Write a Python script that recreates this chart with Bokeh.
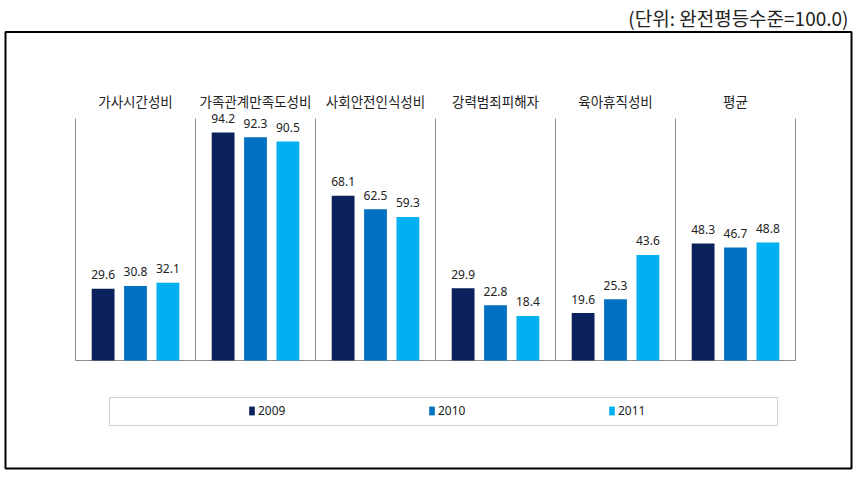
import numpy as np
from bokeh.plotting import figure
from bokeh.models import Range1d, ColumnDataSource, Legend, LegendItem
from bokeh.core.properties import value
from bokeh.embed import file_html
from bokeh.resources import INLINE

# ---- data ----
categories = ["가사시간성비", "가족관계만족도성비", "사회안전인식성비", "강력범죄피해자", "육아휴직성비", "평균"]
years = ["2009", "2010", "2011"]
v2009 = [29.6, 94.2, 68.1, 29.9, 19.6, 48.3]
v2010 = [30.8, 92.3, 62.5, 22.8, 25.3, 46.7]
v2011 = [32.1, 90.5, 59.3, 18.4, 43.6, 48.8]
unit_note = "(단위: 완전평등수준=100.0)"

colors = ["#0A215C", "#0070C0", "#00B0F0"]
offsets = [-0.27, 0.0, 0.27]

# ---- layout (canvas pixels) ----
W, H = 856, 472
PL, PR, PT, PB = 75, 795, 118, 360
n = len(categories)
xs = (PR - PL) / n
ys = (PB - PT) / 100.0
X0 = -PL / xs
X1 = n + (W - PR) / xs
Y1 = 100 + PT / ys
Y0 = -(H - PB) / ys


def fx(px):
    return X0 + px / xs


def fy(py):
    return Y1 - py / ys


p = figure(width=W, height=H, x_range=Range1d(X0, X1), y_range=Range1d(Y0, Y1),
           x_axis_type=None, y_axis_type=None, toolbar_location=None,
           output_backend="svg", min_border=0)
p.outline_line_color = None
p.xgrid.visible = False
p.ygrid.visible = False
p.background_fill_color = "white"
p.border_fill_color = "white"

# outer frame box
p.quad(left=[fx(5)], right=[fx(851)], top=[fy(31.5)], bottom=[fy(468)],
       fill_color=None, line_color="black", line_width=2)

# separators and baseline
bounds = np.arange(n + 1)
p.segment(x0=bounds, y0=[0] * (n + 1), x1=bounds, y1=[100] * (n + 1),
          line_color="#8C8C8C", line_width=1)
p.segment(x0=[0], y0=[0], x1=[n], y1=[0], line_color="#8C8C8C", line_width=1)

idx = np.arange(n) + 0.5
renderers = []
for k, (vals, yr) in enumerate(zip([v2009, v2010, v2011], years)):
    src = ColumnDataSource(dict(x=idx + offsets[k], top=vals,
                                lbl=[f"{v:.1f}" for v in vals]))
    r = p.vbar(x="x", top="top", bottom=0, width=0.19, source=src,
               fill_color=colors[k], line_color=None)
    renderers.append(r)
    p.text(x="x", y="top", text="lbl", source=src, text_align="center",
           text_baseline="middle", y_offset=-14, text_font=value("Noto Sans"),
           text_font_size="12px", text_color="#222222")

# category labels
p.text(x=idx, y=[fy(100)] * n, text=categories, text_align="center",
       text_baseline="middle", text_font=value("Noto Sans CJK KR"),
       text_font_size="13.5px", text_color="#222222")

# unit note
p.text(x=[fx(848)], y=[fy(17)], text=[unit_note], text_align="right",
       text_baseline="middle", text_font=value("Noto Sans CJK KR"),
       text_font_size="19px", text_color="#222222")

# legend box
p.quad(left=[fx(109)], right=[fx(777)], top=[fy(397)], bottom=[fy(425)],
       fill_color=None, line_color="#D0D0D0", line_width=1)

legend = Legend(items=[LegendItem(label=yr, renderers=[r]) for yr, r in zip(years, renderers)],
                orientation="horizontal", location=(248, H - 418.5), spacing=140,
                glyph_width=7, glyph_height=11, label_standoff=3, label_width=30,
                label_height=12, padding=0, margin=0, border_line_alpha=0,
                background_fill_alpha=0, label_text_font_size="12px",
                label_text_font="Noto Sans", label_text_color="#222222")
p.add_layout(legend)

open("out.html", "w").write(file_html(p, INLINE))
